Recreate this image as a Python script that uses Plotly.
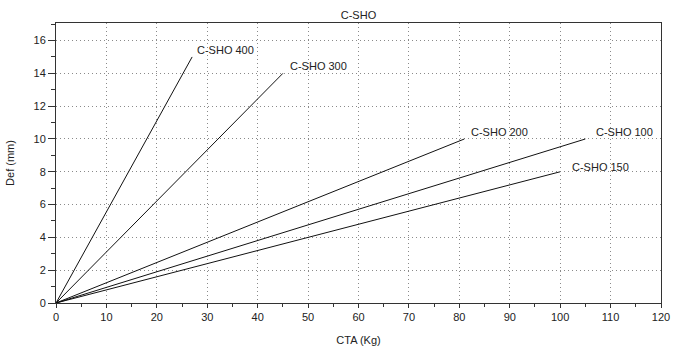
import plotly.graph_objects as go

# Data: each series is a straight line from origin to its end point
series_names = ["C-SHO 400", "C-SHO 300", "C-SHO 200", "C-SHO 100", "C-SHO 150"]
cta_end = [27, 45, 81, 105, 100]      # CTA (Kg)
def_end = [15, 14, 10, 10, 8]         # Def (mm)

x_ticks = [0, 10, 20, 30, 40, 50, 60, 70, 80, 90, 100, 110, 120]
y_ticks = [0, 2, 4, 6, 8, 10, 12, 14, 16]

# label pixel offsets (style only)
label_xshift = [3, 5, 5, 9, 10]
label_yshift = [7, 7, 7, 7, 5]

FONT = "Liberation Sans, Arial, Helvetica, sans-serif"
TXT = "#222222"
AX = "#333333"
GRID = "#8a8a8a"

fig = go.Figure()
for name, xe, ye in zip(series_names, cta_end, def_end):
    fig.add_trace(go.Scatter(x=[0, xe], y=[0, ye], mode="lines", name=name,
                             line=dict(color="#111111", width=1), showlegend=False,
                             hoverinfo="skip"))

for name, xe, ye, dx, dy in zip(series_names, cta_end, def_end, label_xshift, label_yshift):
    fig.add_annotation(x=xe, y=ye, text=name, showarrow=False, xanchor="left",
                       yanchor="middle", xshift=dx, yshift=dy,
                       font=dict(family=FONT, size=11, color=TXT))

fig.update_layout(
    width=676, height=349,
    margin=dict(l=56, r=15, t=23, b=46),
    paper_bgcolor="white", plot_bgcolor="white",
    title=dict(text="C-SHO", x=0.5, xanchor="center", y=1 - 15 / 349, yanchor="middle",
               xref="paper", font=dict(family=FONT, size=11, color=TXT)),
    font=dict(family=FONT, size=11, color=TXT),
)

fig.update_xaxes(
    range=[0, 120], tickvals=x_ticks, ticktext=[str(v) for v in x_ticks],
    automargin=False,
    showline=True, linecolor=AX, linewidth=1, mirror=True,
    ticks="outside", ticklen=4, tickcolor=AX, tickwidth=1,
    showgrid=True, gridcolor=GRID, griddash="1px,3px", gridwidth=1,
    zeroline=False,
    minor=dict(dtick=5, tick0=0, ticks="outside", ticklen=3, tickcolor=AX, showgrid=False),
    title=dict(text="CTA (Kg)", standoff=14, font=dict(family=FONT, size=11, color=TXT)),
    tickfont=dict(family=FONT, size=11, color=TXT),
)
fig.update_yaxes(
    range=[0, 17.07], tickvals=y_ticks, ticktext=[str(v) for v in y_ticks],
    automargin=False,
    showline=True, linecolor=AX, linewidth=1, mirror=True,
    ticks="outside", ticklen=7, tickcolor=AX, tickwidth=1,
    showgrid=True, gridcolor=GRID, griddash="1px,3px", gridwidth=1,
    zeroline=False,
    minor=dict(dtick=1, tick0=0, ticks="outside", ticklen=4, tickcolor=AX, showgrid=False),
    title=dict(text="Def (mm)", standoff=16, font=dict(family=FONT, size=11, color=TXT)),
    tickfont=dict(family=FONT, size=11, color=TXT),
)

fig.write_html("out.html", config={"displayModeBar": False},
               post_script="document.body.style.margin='0';document.body.style.overflow='hidden';")
